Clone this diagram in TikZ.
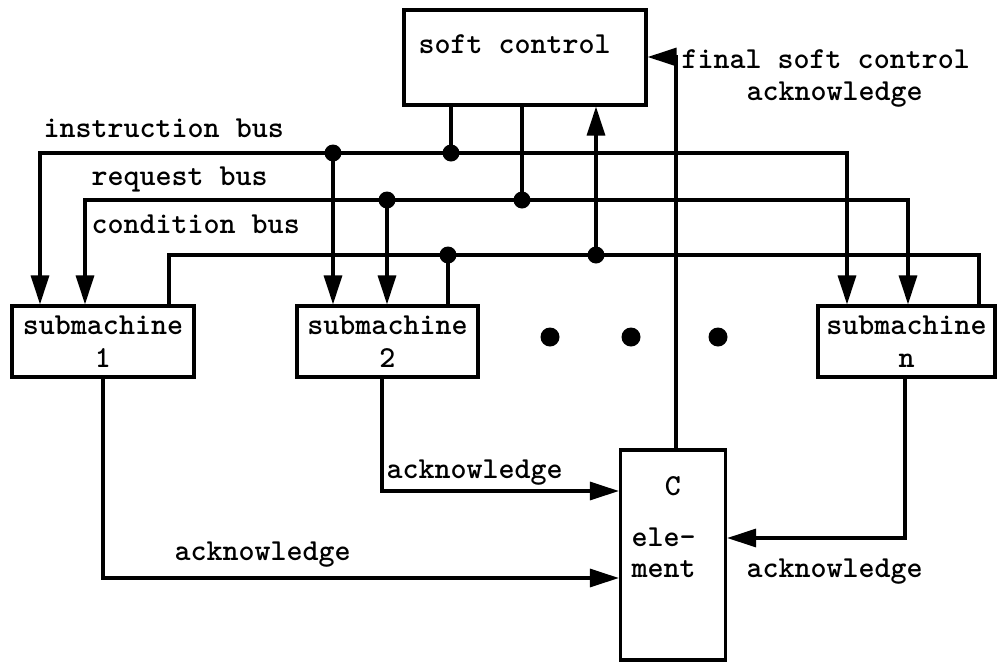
\documentclass[tikz,border=0pt]{standalone}
\usetikzlibrary{arrows.meta}
\begin{document}
\begin{tikzpicture}[x=1pt,y=-1pt,
  line width=3.2pt,
  every node/.style={font=\fontsize{30.5pt}{33pt}\selectfont\ttfamily\bfseries},
  box/.style={draw, rectangle, inner sep=0pt, align=center},
  txt/.style={inner sep=0pt, anchor=base west},
  tip/.tip={Triangle[length=29pt,width=18pt]},
  arr/.style={-tip},
  both/.style={tip-tip},
  jdot/.style={circle, fill, inner sep=0pt, minimum size=17pt},
  edot/.style={circle, fill, inner sep=0pt, minimum size=19pt}]
\useasboundingbox (0,0) rectangle (997,662);

% boxes
\node[box, minimum width=242pt, minimum height=95pt] (soft) at (525,57.5) {};
\node[txt] (softlbl) at (417,53) {soft control};
\node[box, minimum width=182pt, minimum height=71pt] (sub1) at (103,341.5) {submachine\\1};
\node[box, minimum width=181pt, minimum height=71pt] (sub2) at (387.5,341.5) {submachine\\2};
\node[box, minimum width=177pt, minimum height=71pt] (subn) at (906.5,341.5) {submachine\\n};
\node[box, minimum width=105pt, minimum height=210pt] (C) at (673,555) {};
\node[inner sep=0pt, anchor=base] (Cc) at (673,495) {C};
\node[txt] (Cele) at (630,546) {ele-};
\node[txt] (Cment) at (630,577) {ment};

% bus coordinates
\coordinate (i1) at (40,153);  \coordinate (iN) at (847,153);
\coordinate (ib1) at (333,153); \coordinate (ib2) at (451,153);
\coordinate (r1) at (85,200);  \coordinate (rN) at (908,200);
\coordinate (rb1) at (387,200); \coordinate (rb2) at (522,200);
\coordinate (c1) at (169,255); \coordinate (cN) at (979,255);
\coordinate (cb1) at (448,255); \coordinate (cb2) at (596,255);

% instruction bus
\draw[both] (i1 |- sub1.north) -- (i1) -- (iN) -- (iN |- subn.north);
\draw[arr] (ib1) -- (ib1 |- sub2.north);
\draw (soft.south -| ib2) -- (ib2);
% request bus
\draw[both] (r1 |- sub1.north) -- (r1) -- (rN) -- (rN |- subn.north);
\draw[arr] (rb1) -- (rb1 |- sub2.north);
\draw (soft.south -| rb2) -- (rb2);
% condition bus
\draw (c1 |- sub1.north) -- (c1) -- (cN) -- (cN |- subn.north);
\draw (cb1) -- (cb1 |- sub2.north);
\draw[arr] (cb2) -- (soft.south -| cb2);

% junction dots
\node[jdot] (d1) at (ib1) {};
\node[jdot] (d2) at (ib2) {};
\node[jdot] (d3) at (rb1) {};
\node[jdot] (d4) at (rb2) {};
\node[jdot] (d5) at (cb1) {};
\node[jdot] (d6) at (cb2) {};

% ellipsis dots
\node[edot] (e1) at (550,337) {};
\node[edot] (e2) at (631,337) {};
\node[edot] (e3) at (718,337) {};

% final soft control acknowledge
\coordinate (fa) at (676,57);
\draw[arr] (C.north -| fa) -- (fa) -- (fa -| soft.east);

% acknowledges
\coordinate (a1) at (103,578);
\coordinate (a2) at (382,491);
\coordinate (an) at (905,538);
\draw[arr] (a1 |- sub1.south) -- (a1) -- (a1 -| C.west);
\draw[arr] (a2 |- sub2.south) -- (a2) -- (a2 -| C.west);
\draw[arr] (an |- subn.south) -- (an) -- (an -| C.east);

% labels
\node[txt] (linstr) at (42,137) {instruction bus};
\node[txt] (lreq) at (90,185) {request bus};
\node[txt] (lcond) at (90,233) {condition bus};
\node[txt] (lfin1) at (680,68) {final soft control};
\node[txt] (lfin2) at (745,100) {acknowledge};
\node[txt] (lack1) at (173,560) {acknowledge};
\node[txt] (lack2) at (385,478) {acknowledge};
\node[txt] (lackn) at (745,577) {acknowledge};
\end{tikzpicture}
\end{document}
